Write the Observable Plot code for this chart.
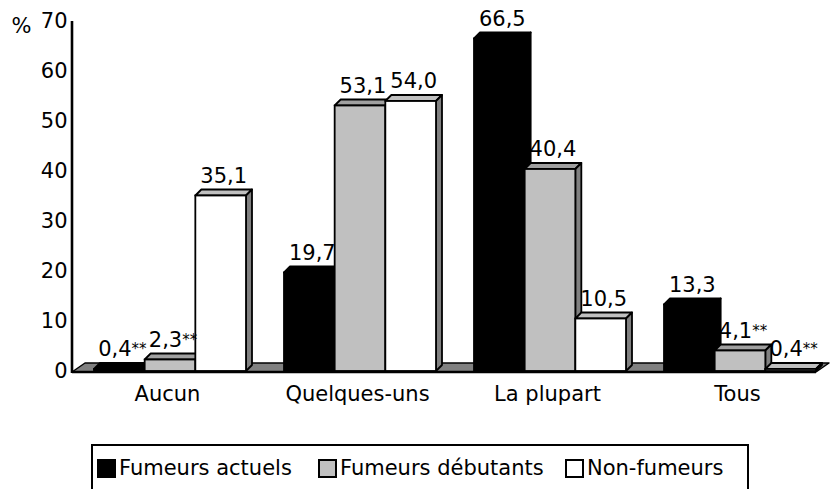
<!DOCTYPE html>
<html><head><meta charset="utf-8">
<script src="https://cdn.jsdelivr.net/npm/d3@7"></script>
<script src="https://cdn.jsdelivr.net/npm/@observablehq/plot@0.6"></script>
<style>
body{margin:0;background:#fff;font-family:"DejaVu Sans",sans-serif;}
#wrap{position:relative;width:838px;height:489px;overflow:hidden;background:#fff;}
#legend{position:absolute;left:91px;top:444px;width:658px;height:70px;border:2px solid #000;box-sizing:border-box;}
.item{position:absolute;top:10px;display:flex;align-items:center;font-size:21px;white-space:nowrap;color:#000;}
.sw{width:15px;height:15px;border:2px solid #000;margin-right:3px;box-sizing:content-box;}
</style></head><body><div id="wrap"><div id="chart"></div><div id="legend"></div></div>
<script>
// ---- data ----
const categories = ["Aucun", "Quelques-uns", "La plupart", "Tous"];
const series = ["Fumeurs actuels", "Fumeurs débutants", "Non-fumeurs"];
const actuels = [0.4, 19.7, 66.5, 13.3];
const debutants = [2.3, 53.1, 40.4, 4.1];
const nonFumeurs = [35.1, 54.0, 10.5, 0.4];
// ** = estimation à interpréter avec prudence
const flagActuels = [true, false, false, false];
const flagDebutants = [true, false, false, true];
const flagNonFumeurs = [false, false, false, true];
const colors = ["#000000", "#c0c0c0", "#ffffff"];
const yTicks = [0, 10, 20, 30, 40, 50, 60, 70];

const seriesValues = [actuels, debutants, nonFumeurs];
const seriesFlags = [flagActuels, flagDebutants, flagNonFumeurs];
const data = [];
categories.forEach((cat, c) => {
  series.forEach((s, k) => {
    data.push({cat, series: s, k, value: seriesValues[k][c], flag: seriesFlags[k][c]});
  });
});
const fmt = v => v.toFixed(1).replace(".", ",");

const depth = 6;
const topShade = ["#000000", "#a0a0a0", "#c0c0c0"];
const sideShade = ["#000000", "#808080", "#808080"];

function bars3d(index, scales, values, dims) {
  const g = d3.create("svg:g");
  const bw = scales.x.bandwidth() / series.length;
  const y0 = scales.y(0);
  for (const i of index) {
    const d = data[i];
    const x1 = scales.x(d.cat) + d.k * bw, x2 = x1 + bw;
    const yt = scales.y(d.value);
    const c = scales.color ? scales.color(d.series) : colors[d.k];
    g.append("path")
      .attr("d", `M${x1},${yt}L${x1 + depth},${yt - depth}L${x2 + depth},${yt - depth}L${x2},${yt}Z`)
      .attr("fill", topShade[d.k]).attr("stroke", "#000").attr("stroke-width", 1.8).attr("stroke-linejoin", "round");
    g.append("path")
      .attr("d", `M${x2},${yt}L${x2 + depth},${yt - depth}L${x2 + depth},${y0 - depth}L${x2},${y0}Z`)
      .attr("fill", sideShade[d.k]).attr("stroke", "#000").attr("stroke-width", 1.8).attr("stroke-linejoin", "round");
    g.append("rect")
      .attr("x", x1).attr("y", yt).attr("width", bw).attr("height", Math.max(0, y0 - yt))
      .attr("fill", c).attr("stroke", "#000").attr("stroke-width", 1.8);
  }
  for (const i of index) {
    const d = data[i];
    const x1 = scales.x(d.cat) + d.k * bw;
    const yt = scales.y(d.value);
    const t = g.append("text")
      .attr("x", x1 + bw / 2 + depth / 2)
      .attr("y", yt - depth - 7)
      .attr("text-anchor", "middle")
      .attr("font-size", "21px")
      .attr("fill", "#000");
    t.append("tspan").text(fmt(d.value));
    if (d.flag) t.append("tspan").attr("font-size", "15px").attr("dy", "-2").text("**");
  }
  return g.node();
}

function floorRender(index, scales, values, dims) {
  const g = d3.create("svg:g");
  const y0 = scales.y(0) + 1;
  const L = dims.marginLeft, R = dims.width - dims.marginRight;
  g.append("path")
    .attr("d", `M${L},${y0}L${L + 13},${y0 - 9}L${R + 11},${y0 - 9}L${R - 2},${y0}Z`)
    .attr("fill", "#808080").attr("stroke", "#000").attr("stroke-width", 1.5).attr("stroke-linejoin", "round");
  return g.node();
}

function axisLines(index, scales, values, dims) {
  const g = d3.create("svg:g");
  const y0 = scales.y(0) + 1;
  const yTop = scales.y(70);
  const L = dims.marginLeft, R = dims.width - dims.marginRight;
  g.append("line").attr("x1", L).attr("x2", R - 2).attr("y1", y0).attr("y2", y0)
    .attr("stroke", "#000").attr("stroke-width", 2.6);
  g.append("line").attr("x1", L).attr("x2", L).attr("y1", yTop).attr("y2", y0 + 1)
    .attr("stroke", "#000").attr("stroke-width", 2.6);
  return g.node();
}

const chart = Plot.plot({
  width: 838,
  height: 430,
  marginLeft: 72,
  marginRight: 20,
  marginTop: 21,
  marginBottom: 59,
  style: {fontFamily: "DejaVu Sans", fontSize: "21px", color: "#000", background: "#fff", overflow: "visible"},
  x: {domain: categories, range: [94, 816], paddingInner: 0.2, paddingOuter: 0},
  y: {domain: [0, 70]},
  color: {domain: series, range: colors},
  marks: [
    Plot.ruleY([0], {render: floorRender}),
    Plot.barY(data, {x: "cat", y: "value", fill: "series", render: bars3d}),
    Plot.ruleY([0], {render: axisLines}),
    Plot.axisX({tickSize: 0, tickPadding: 15, dx: -3, label: null, fontSize: 21}),
    Plot.axisY({ticks: yTicks, tickSize: 0, tickPadding: 5, label: null, fontSize: 21}),
    Plot.text(["%"], {frameAnchor: "top-left", dx: -51, dy: -3, textAnchor: "middle", fontSize: 21})
  ]
});
document.getElementById("chart").append(chart);

// legend (HTML, below the SVG)
const legend = document.getElementById("legend");
const itemLefts = [4, 225, 472];
series.forEach((s, k) => {
  const it = document.createElement("div");
  it.className = "item";
  it.style.left = itemLefts[k] + "px";
  const sw = document.createElement("span");
  sw.className = "sw";
  sw.style.background = colors[k];
  const lab = document.createElement("span");
  lab.textContent = s;
  it.append(sw, lab);
  legend.append(it);
});
</script>
</body></html>
